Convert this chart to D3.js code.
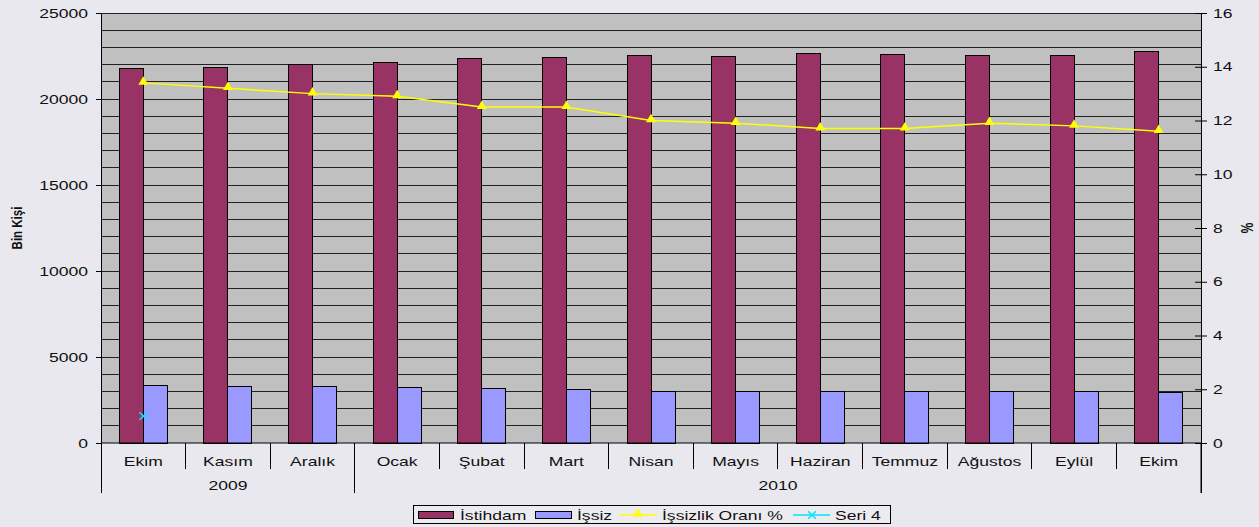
<!DOCTYPE html>
<html>
<head>
<meta charset="utf-8">
<script src="https://cdn.jsdelivr.net/npm/d3@7"></script>
<style>
  html, body { margin: 0; padding: 0; background: #e8e8ee; }
  svg { display: block; font-family: "Liberation Sans", Arial, sans-serif; }
</style>
</head>
<body>
<svg id="chart" width="1259" height="527"></svg>
<script>
// Monthly labour figures, Oct 2009 – Oct 2010 (thousand persons, rate in %)
const months = ["Ekim", "Kasım", "Aralık", "Ocak", "Şubat", "Mart", "Nisan",
                "Mayıs", "Haziran", "Temmuz", "Ağustos", "Eylül", "Ekim"];
const years = [
  { label: "2009", from: 0, to: 3 },
  { label: "2010", from: 3, to: 13 }
];
const istihdam = [21800, 21860, 22010, 22150, 22370, 22440, 22540,
                  22500, 22660, 22600, 22520, 22530, 22750];
const issiz = [3370, 3310, 3260, 3240, 3180, 3120, 3020,
               3010, 2980, 2980, 3020, 2980, 2965];
const issizlikOrani = [13.4, 13.2, 13.0, 12.9, 12.5, 12.5, 12.0,
                       11.9, 11.7, 11.7, 11.9, 11.8, 11.6];
const seri4 = [1]; // single point on the % axis, first month only
const leftTicks = [0, 5000, 10000, 15000, 20000, 25000];
const rightTicks = [0, 2, 4, 6, 8, 10, 12, 14, 16];
const seriesNames = ["İstihdam", "İşsiz", "İşsizlik Oranı %", "Seri 4"];

const C = { emp: "#993366", unemp: "#9999ff", rate: "#ffff00", s4: "#00e5ff",
            plot: "#c0c0c0", grid: "#222", text: "#111" };
const SX = 1.35; // horizontal stretch of all text

const svg = d3.select("#chart");
const L = 101, R = 1201, T = 13, B = 443;

const x = d3.scaleBand().domain(d3.range(months.length)).range([L, R]).padding(0);
const yL = d3.scaleLinear().domain([0, 25000]).range([B, T]);
const yR = d3.scaleLinear().domain([0, 16]).range([B, T]);
const inner = d3.scaleBand().domain([0, 1]).range([-24, 24]);
const cx = i => x(i) + x.bandwidth() / 2;

function txt(g, s, px, py, opts = {}) {
  const t = g.append("text")
    .attr("transform", `translate(${px},${py}) scale(${SX},1)` + (opts.rot ? ` rotate(${opts.rot})` : ""))
    .attr("text-anchor", opts.anchor || "middle")
    .attr("dominant-baseline", "central")
    .attr("font-size", opts.size || 13)
    .attr("font-weight", opts.weight || "normal")
    .attr("fill", C.text)
    .text(s);
  return t;
}

// plot area
svg.append("rect").attr("x", L).attr("y", T).attr("width", R - L).attr("height", B - T)
  .attr("fill", C.plot);

// horizontal gridlines every 1000
svg.append("g").selectAll("line").data(d3.range(1000, 25001, 1000)).join("line")
  .attr("x1", L).attr("x2", R)
  .attr("y1", d => yL(d)).attr("y2", d => yL(d))
  .attr("stroke", C.grid).attr("stroke-width", 1).attr("shape-rendering", "crispEdges");

// bars
const bars = svg.append("g").attr("shape-rendering", "crispEdges");
bars.selectAll("rect.emp").data(istihdam).join("rect")
  .attr("x", (d, i) => cx(i) + inner(0)).attr("width", inner.bandwidth())
  .attr("y", d => yL(d)).attr("height", d => B - yL(d))
  .attr("fill", C.emp).attr("stroke", "#000").attr("stroke-width", 1);
bars.selectAll("rect.unemp").data(issiz).join("rect")
  .attr("x", (d, i) => cx(i) + inner(1)).attr("width", inner.bandwidth())
  .attr("y", d => yL(d)).attr("height", d => B - yL(d))
  .attr("fill", C.unemp).attr("stroke", "#000").attr("stroke-width", 1);

// left axis
const axL = svg.append("g").attr("transform", `translate(${L},0)`)
  .call(d3.axisLeft(yL).tickValues(leftTicks).tickSize(5).tickFormat(() => ""));
axL.select(".domain").attr("stroke", "#000");
axL.selectAll(".tick line").attr("stroke", "#000");
leftTicks.forEach(v => txt(svg, String(v), 88, yL(v), { anchor: "end" }));

// right axis (ticks cross the line)
const axR = svg.append("g").attr("transform", `translate(${R},0)`)
  .call(d3.axisRight(yR).tickValues(rightTicks).tickSize(6).tickFormat(() => ""));
axR.select(".domain").attr("stroke", "#000");
axR.selectAll(".tick line").attr("x1", -6).attr("stroke", "#000");
rightTicks.forEach(v => txt(svg, String(v), 1213, yR(v), { anchor: "start" }));
// extend right axis line down to the year row
svg.append("line").attr("x1", R).attr("x2", R).attr("y1", B).attr("y2", 493).attr("stroke", "#000");

// axis titles
txt(svg, "Bin Kişi", 17, 228, { rot: -90, size: 11.5, weight: "bold" });
txt(svg, "%", 1247, 228, { rot: 90, size: 12, weight: "bold" });

// category axis
svg.append("line").attr("x1", L).attr("x2", R).attr("y1", B).attr("y2", B).attr("stroke", "#000");
const yearEdges = new Set(years.flatMap(y => [y.from, y.to]));
svg.append("g").selectAll("line").data(d3.range(months.length + 1)).join("line")
  .attr("x1", i => x(0) + i * x.bandwidth()).attr("x2", i => x(0) + i * x.bandwidth())
  .attr("y1", B).attr("y2", i => yearEdges.has(i) ? 493 : 469)
  .attr("stroke", "#000").attr("shape-rendering", "crispEdges");
months.forEach((m, i) => txt(svg, m, cx(i), 461));
years.forEach(y => txt(svg, y.label, (x(0) + y.from * x.bandwidth() + x(0) + y.to * x.bandwidth()) / 2, 485));

// rate line
const line = d3.line().x((d, i) => cx(i)).y(d => yR(d));
svg.append("path").datum(issizlikOrani).attr("d", line)
  .attr("fill", "none").attr("stroke", C.rate).attr("stroke-width", 1.5);
const tri = d3.symbol().type(d3.symbolTriangle).size(42);
svg.append("g").selectAll("path").data(issizlikOrani).join("path")
  .attr("d", tri).attr("transform", (d, i) => `translate(${cx(i)},${yR(d) - 1})`)
  .attr("fill", C.rate);

// Seri 4 marker
const xs = d3.symbol().type(d3.symbolX).size(40);
svg.append("g").selectAll("path").data(seri4).join("path")
  .attr("d", xs).attr("transform", (d, i) => `translate(${cx(i)},${yR(d)})`)
  .attr("fill", "none").attr("stroke", C.s4).attr("stroke-width", 1.5);

// legend
const lg = svg.append("g");
lg.append("rect").attr("x", 413.5).attr("y", 505.5).attr("width", 477).attr("height", 18)
  .attr("fill", "#ececf0").attr("stroke", "#000");
const ly = 515;
lg.append("rect").attr("x", 418.5).attr("y", ly - 3.5).attr("width", 35).attr("height", 7)
  .attr("fill", C.emp).attr("stroke", "#000");
txt(lg, seriesNames[0], 460, ly, { anchor: "start" });
lg.append("rect").attr("x", 535.5).attr("y", ly - 3.5).attr("width", 36).attr("height", 7)
  .attr("fill", C.unemp).attr("stroke", "#000");
txt(lg, seriesNames[1], 577, ly, { anchor: "start" });
lg.append("line").attr("x1", 620).attr("x2", 657).attr("y1", ly).attr("y2", ly)
  .attr("stroke", C.rate).attr("stroke-width", 1.5);
lg.append("path").attr("d", tri).attr("transform", `translate(638,${ly - 1})`).attr("fill", C.rate);
txt(lg, seriesNames[2], 662, ly, { anchor: "start" });
lg.append("line").attr("x1", 793).attr("x2", 830).attr("y1", ly).attr("y2", ly)
  .attr("stroke", C.s4).attr("stroke-width", 1.5);
lg.append("path").attr("d", xs).attr("transform", `translate(812,${ly})`)
  .attr("fill", "none").attr("stroke", C.s4).attr("stroke-width", 1.5);
txt(lg, seriesNames[3], 835, ly, { anchor: "start" });
</script>
</body>
</html>
